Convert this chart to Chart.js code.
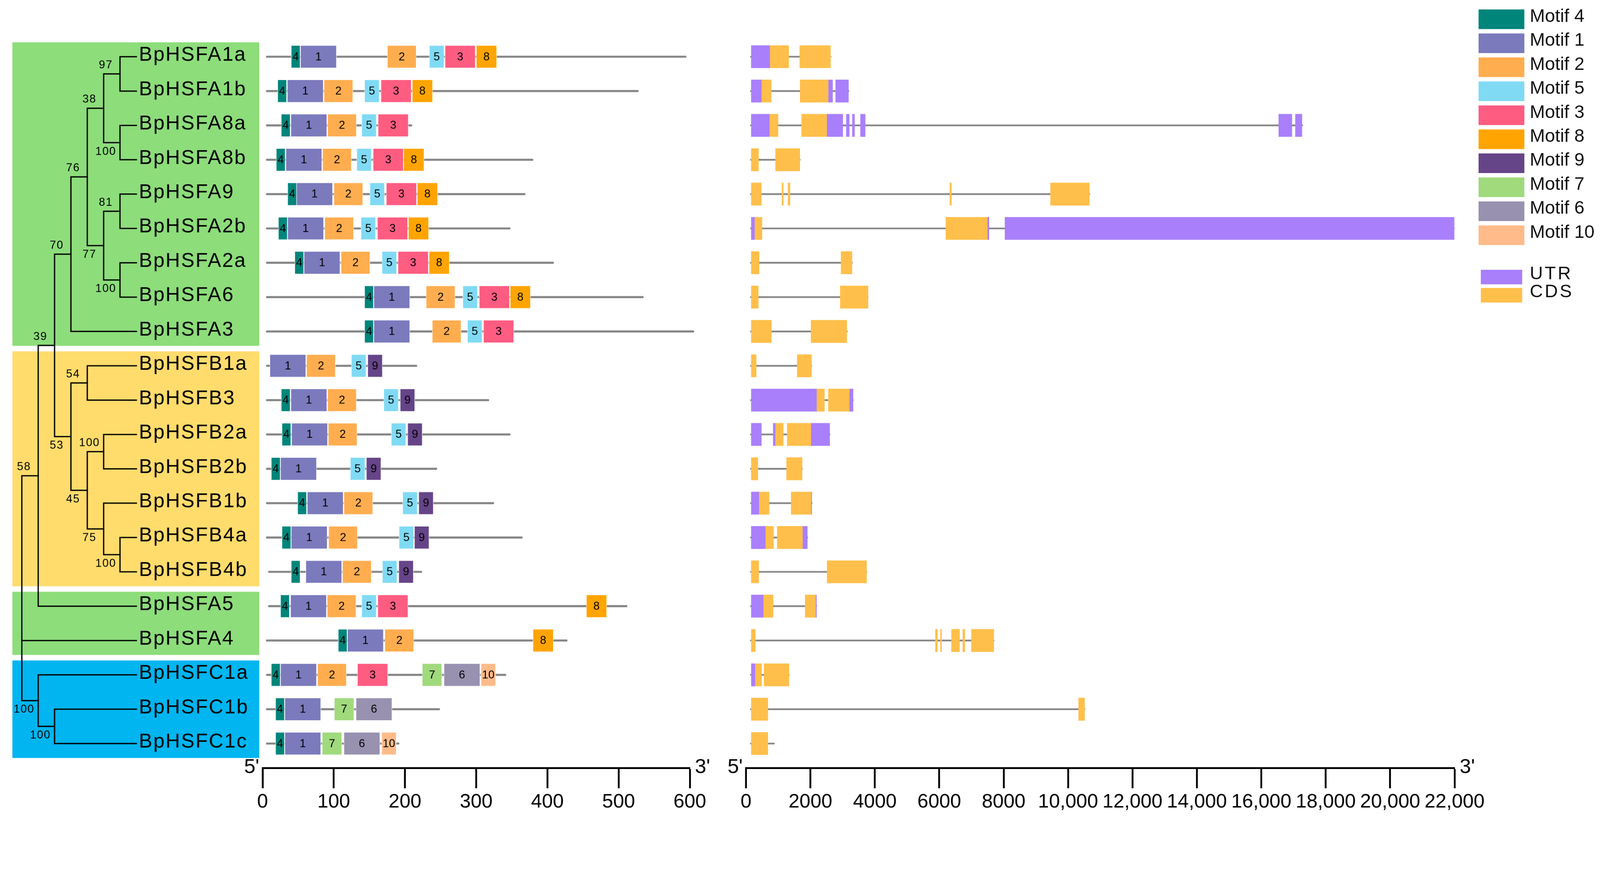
<!DOCTYPE html>
<html>
<head>
<meta charset="utf-8">
<script src="https://cdn.jsdelivr.net/npm/chart.js@4.4.1/dist/chart.umd.min.js"></script>
<style>
  html, body { margin: 0; padding: 0; background: #fff; overflow: hidden; }
  #page { position: relative; width: 4400px; height: 2248px; overflow: hidden; transform-origin: 0 0;
          font-family: "Liberation Sans", Arial, sans-serif; }
  #page canvas { position: absolute; top: 0; }
  .leg-box { position: absolute; }
  .leg-text { position: absolute; font-size: 50px; line-height: 50px; color: #111; white-space: nowrap; }
</style>
</head>
<body>
<div id="page">
  <canvas id="tree" width="730" height="2248" style="left:0px"></canvas>
  <canvas id="motifs" width="1340" height="2248" style="left:640px"></canvas>
  <canvas id="genes" width="2130" height="2248" style="left:1960px"></canvas>
  <div id="legend"></div>
</div>
<script>
// ---- data ----
const genes = ['BpHSFA1a', 'BpHSFA1b', 'BpHSFA8a', 'BpHSFA8b', 'BpHSFA9', 'BpHSFA2b', 'BpHSFA2a',
  'BpHSFA6', 'BpHSFA3', 'BpHSFB1a', 'BpHSFB3', 'BpHSFB2a', 'BpHSFB2b', 'BpHSFB1b', 'BpHSFB4a',
  'BpHSFB4b', 'BpHSFA5', 'BpHSFA4', 'BpHSFC1a', 'BpHSFC1b', 'BpHSFC1c'];

// cladogram with bootstrap values
const treeNewick = '(((((((BpHSFA1a,BpHSFA1b)97,(BpHSFA8a,BpHSFA8b)100)38,((BpHSFA9,BpHSFA2b)81,' +
  '(BpHSFA2a,BpHSFA6)100)77)76,BpHSFA3)70,((BpHSFB1a,BpHSFB3)54,((BpHSFB2a,BpHSFB2b)100,' +
  '(BpHSFB1b,(BpHSFB4a,BpHSFB4b)100)75)45)53)39,BpHSFA5)58,BpHSFA4,(BpHSFC1a,(BpHSFC1b,BpHSFC1c)100)100);';

// subfamily shading
const groupFirst = ['BpHSFA1a', 'BpHSFB1a', 'BpHSFA5', 'BpHSFC1a'];
const groupLast = ['BpHSFA3', 'BpHSFB4b', 'BpHSFA4', 'BpHSFC1c'];
const groupColors = ['#8ddd7b', '#ffdc6c', '#8ddd7b', '#00b5f0'];

// protein backbone (aa)
const proteinSpan = [[5, 595], [5, 528], [5, 210], [5, 380], [5, 369], [5, 348], [5, 409], [5, 535],
  [5, 606], [5, 217], [5, 318], [5, 348], [5, 245], [5, 325], [5, 365], [8, 224], [8, 512], [5, 428],
  [5, 342], [5, 249], [5, 192]];

const motifNames = ['Motif 4', 'Motif 1', 'Motif 2', 'Motif 5', 'Motif 3', 'Motif 8', 'Motif 9',
  'Motif 7', 'Motif 6', 'Motif 10'];
const motifColors = ['#00857a', '#7b7abd', '#ffad4f', '#80daf4', '#ff5c82', '#ffa400', '#664488',
  '#a0da7d', '#9891b0', '#ffbb8a'];
const motifWidth = [13, 51, 41, 21, 43, 29, 21, 28, 51, 21];

// motif start positions (aa), one entry per gene, null = absent
const _ = null;
const motif4 = [40, 21, 26, 19, 35, 22, 45, 143, 143, _, 26, 27, 12, 49, 27, 40, 25, 106, 12, 18, 18];
const motif1 = [53, 34.5, 39.5, 32.5, 47.5, 35, 58, 156, 156, 10, 39.5, 40.5, 25, 62.5, 40, 60.5, 39, 119, 25, 31, 31];
const motif2 = [175, 86, 91, 84, 100, 87, 110, 229.5, 238, 61.5, 91, 92, _, 114, 92.5, 112, 90.5, 171.5, 77, _, _];
const motif5 = [234, 143, 139, 132, 150.5, 138, 167.5, 281, 287.5, 124.5, 170, 180.5, 123, 196.5, 191.5, 168, 139, _, _, _, _];
const motif3 = [256, 166, 162, 155, 173.5, 161, 190, 304, 310, _, _, _, _, _, _, _, 161.5, _, 133, _, _];
const motif8 = [300, 210, _, 198, 217, 204.5, 233.5, 347.5, _, _, _, _, _, _, _, _, 454.5, 379.5, _, _, _];
const motif9 = [_, _, _, _, _, _, _, _, _, 147.5, 193, 203.5, 145.5, 219, 213, 191, _, _, _, _, _];
const motif7 = [_, _, _, _, _, _, _, _, _, _, _, _, _, _, _, _, _, _, 224, 100.5, 83.5];
const motif6 = [_, _, _, _, _, _, _, _, _, _, _, _, _, _, _, _, _, _, 254.5, 131, 114];
const motif10 = [_, _, _, _, _, _, _, _, _, _, _, _, _, _, _, _, _, _, 306.5, _, 167];
const motifStarts = [motif4, motif1, motif2, motif5, motif3, motif8, motif9, motif7, motif6, motif10];

// gene structure (bp)
const geneSpan = [[130, 2645], [130, 3203], [130, 17290], [130, 1690], [130, 10680], [130, 22000],
  [130, 3310], [130, 3800], [130, 3150], [130, 2050], [130, 3340], [130, 2615], [130, 1760],
  [130, 2060], [130, 1925], [130, 3760], [130, 2200], [130, 7710], [130, 1350], [130, 10530], [130, 888]];

const utrRegions = [
  [[162, 739]],
  [[162, 480], [2561, 2690], [2781, 3183]],
  [[162, 726], [2515, 3008], [3112, 3209], [3300, 3371], [3553, 3702], [16540, 16952], [17056, 17264]],
  [],
  [],
  [[162, 266], [7501, 7546], [8039, 21990]],
  [], [], [], [],
  [[162, 2191], [3216, 3326]],
  [[162, 480], [843, 908], [2023, 2600]],
  [],
  [[162, 402], [2023, 2042]],
  [[162, 603], [1763, 1906]],
  [],
  [[162, 538], [2172, 2190]],
  [],
  [[162, 279]],
  [], []
];

const cdsRegions = [
  [[739, 1329], [1666, 2626]],
  [[480, 784], [1679, 2561]],
  [[726, 998], [1724, 2515]],
  [[162, 389], [914, 1673]],
  [[162, 480], [1115, 1160], [1303, 1368], [6327, 6379], [9452, 10662]],
  [[266, 499], [6204, 7501]],
  [[162, 408], [2950, 3293]],
  [[162, 382], [2924, 3792]],
  [[162, 791], [2016, 3131]],
  [[162, 318], [1588, 2036]],
  [[2191, 2438], [2554, 3216]],
  [[908, 1160], [1277, 2023]],
  [[162, 370], [1258, 1744]],
  [[402, 720], [1400, 2023]],
  [[603, 856], [966, 1763]],
  [[162, 395], [2515, 3747]],
  [[538, 843], [1835, 2172]],
  [[162, 292], [5880, 5945], [6036, 6075], [6379, 6632], [6729, 6794], [6995, 7695]],
  [[279, 486], [557, 1335]],
  [[162, 681], [10325, 10515]],
  [[162, 681]]
];

const structureNames = ['UTR', 'CDS'];
const structureColors = ['#a97ffc', '#ffbf4a'];

// ---- layout ----
const ROW0 = 156;      // pixel centre of first row
const ROWH = 94.45;    // row pitch
const AXIS_Y = 2112;   // baseline of both scale bars
const FONT = '"Liberation Sans", Arial, sans-serif';

// fit the 4400 x 2248 figure into whatever viewport we get
const page = document.getElementById('page');
const fit = Math.min(window.innerWidth / 4400, window.innerHeight / 2248);
if (fit > 0 && Math.abs(fit - 1) > 0.002) page.style.transform = 'scale(' + fit + ')';

Chart.defaults.font.family = FONT;
Chart.defaults.color = '#000';
Chart.defaults.animation = false;
Chart.defaults.plugins.legend.display = false;
Chart.defaults.plugins.tooltip.enabled = false;

const rowMin = -ROW0 / ROWH;

// ---- tree ----
function parseNewick(s) {
  let pos = 0;
  function node() {
    const n = { children: [], name: '', support: '' };
    if (s[pos] === '(') {
      pos++;
      n.children.push(node());
      while (s[pos] === ',') { pos++; n.children.push(node()); }
      pos++; // ')'
    }
    let label = '';
    while (pos < s.length && !',);'.includes(s[pos])) label += s[pos++];
    if (n.children.length) n.support = label; else n.name = label;
    return n;
  }
  return node();
}

const treeRoot = parseNewick(treeNewick);
const innerNodes = [];
let leafDepth = 0;
function layoutTree(n, d) {
  n.depth = d;
  if (!n.children.length) {
    n.y = genes.indexOf(n.name);
    leafDepth = Math.max(leafDepth, d);
    return;
  }
  n.children.forEach(c => { c.parent = n; layoutTree(c, d + 1); });
  n.y = (n.children[0].y + n.children[n.children.length - 1].y) / 2;
  innerNodes.push(n);
}
layoutTree(treeRoot, 0);
const nodeX = n => n.children.length ? n.depth : leafDepth;

const treeDatasets = [];
innerNodes.forEach(n => {
  const first = n.children[0];
  const last = n.children[n.children.length - 1];
  treeDatasets.push({
    data: [{ x: nodeX(first), y: first.y }, { x: n.depth, y: first.y },
           { x: n.depth, y: last.y }, { x: nodeX(last), y: last.y }]
  });
  n.children.slice(1, -1).forEach(c => {
    treeDatasets.push({ data: [{ x: n.depth, y: c.y }, { x: nodeX(c), y: c.y }] });
  });
});
treeDatasets.forEach(ds => Object.assign(ds, {
  showLine: true, pointRadius: 0, borderColor: '#000', borderWidth: 3.5,
  borderJoinStyle: 'miter', borderCapStyle: 'square', tension: 0, fill: false
}));

const treeDecor = {
  id: 'treeDecor',
  beforeDatasetsDraw(chart) {
    const { ctx, scales: { y } } = chart;
    ctx.save();
    groupFirst.forEach((g, k) => {
      const top = y.getPixelForValue(genes.indexOf(g) - 0.42);
      const bottom = y.getPixelForValue(genes.indexOf(groupLast[k]) + 0.42);
      ctx.fillStyle = groupColors[k];
      ctx.fillRect(34, top, 679, bottom - top);
    });
    ctx.restore();
  },
  afterDatasetsDraw(chart) {
    const { ctx, scales: { x, y } } = chart;
    ctx.save();
    ctx.fillStyle = '#000';
    // leaf names
    ctx.font = '55px ' + FONT;
    ctx.letterSpacing = '3px';
    ctx.textAlign = 'left';
    ctx.textBaseline = 'middle';
    const labelX = x.getPixelForValue(leafDepth) + 7;
    genes.forEach((g, i) => ctx.fillText(g, labelX, y.getPixelForValue(i) - 4));
    // bootstrap values
    ctx.font = '31px ' + FONT;
    ctx.letterSpacing = '2px';
    ctx.textAlign = 'center';
    innerNodes.forEach(n => {
      if (!n.parent || !n.support) return;
      const above = n.parent.children[0] === n;
      const px = x.getPixelForValue(n.parent.depth) + 6;
      const py = y.getPixelForValue(n.y) + (above ? -24 : 25);
      ctx.fillText(n.support, px, py);
    });
    ctx.restore();
  }
};

new Chart(document.getElementById('tree'), {
  type: 'scatter',
  data: { datasets: treeDatasets },
  options: {
    responsive: false,
    events: [],
    layout: { padding: 0 },
    scales: {
      x: { type: 'linear', display: false, min: -60 / 45, max: (730 - 60) / 45 },
      y: { type: 'linear', display: false, reverse: true, min: rowMin, max: (2248 - ROW0) / ROWH }
    }
  },
  plugins: [treeDecor]
});

// ---- shared helpers for the two bar panels ----
function bottomAxis(max, step, format) {
  return {
    type: 'linear', position: 'bottom', min: 0, max: max, stacked: false,
    afterFit: scale => { scale.height = 2248 - AXIS_Y; },
    border: { display: true, color: '#000', width: 5 },
    grid: { drawOnChartArea: false, drawTicks: true, tickLength: 56, tickWidth: 5, tickColor: '#000' },
    ticks: { stepSize: step, color: '#000', padding: 6, font: { size: 54 }, maxRotation: 0,
             autoSkip: false, callback: format }
  };
}
function rowAxis() {
  return { type: 'linear', display: false, reverse: true, offset: false,
           min: rowMin, max: (AXIS_Y - ROW0) / ROWH };
}
const primeLabels = {
  id: 'primeLabels',
  afterDraw(chart) {
    const { ctx, chartArea } = chart;
    ctx.save();
    ctx.fillStyle = '#000';
    ctx.font = '56px ' + FONT;
    ctx.textBaseline = 'alphabetic';
    ctx.textAlign = 'right';
    ctx.fillText("5'", chartArea.left - 9, chartArea.bottom + 14);
    ctx.textAlign = 'left';
    ctx.fillText("3'", chartArea.right + 14, chartArea.bottom + 14);
    ctx.restore();
  }
};

// ---- motif panel ----
const motifDatasets = [{
  label: 'protein',
  data: proteinSpan.map((s, i) => ({ x: s, y: i })),
  backgroundColor: '#858585', borderWidth: 0, borderRadius: 2.5, borderSkipped: false,
  barThickness: 5, stack: 'row', order: 10, clip: false
}];
motifNames.forEach((name, k) => {
  const data = [];
  motifStarts[k].forEach((s, i) => { if (s !== null) data.push({ x: [s, s + motifWidth[k]], y: i }); });
  motifDatasets.push({
    label: name, data: data, motifText: name.replace('Motif ', ''),
    backgroundColor: motifColors[k], borderColor: 'rgba(255,255,255,0.75)', borderWidth: 1.5,
    borderSkipped: false, barThickness: 63, stack: 'row', order: 0, clip: false
  });
});

const motifText = {
  id: 'motifText',
  afterDatasetsDraw(chart) {
    const { ctx } = chart;
    ctx.save();
    ctx.fillStyle = '#000';
    ctx.font = '31px ' + FONT;
    ctx.textAlign = 'center';
    ctx.textBaseline = 'middle';
    chart.data.datasets.forEach((ds, d) => {
      if (!ds.motifText) return;
      chart.getDatasetMeta(d).data.forEach(el => {
        const p = el.getProps(['x', 'base', 'y'], true);
        ctx.fillText(ds.motifText, (p.x + p.base) / 2, p.y + 1);
      });
    });
    ctx.restore();
  }
};

new Chart(document.getElementById('motifs'), {
  type: 'bar',
  data: { datasets: motifDatasets },
  options: {
    indexAxis: 'y',
    responsive: false,
    events: [],
    layout: { padding: { left: 82, right: 83, top: 0, bottom: 0 } },
    scales: { x: bottomAxis(600, 100, v => String(v)), y: rowAxis() }
  },
  plugins: [motifText, primeLabels]
});

// ---- gene structure panel ----
const geneDatasets = [{
  label: 'intron',
  data: geneSpan.map((s, i) => ({ x: s, y: i })),
  backgroundColor: '#858585', borderWidth: 0, borderRadius: 2, borderSkipped: false,
  barThickness: 4, stack: 'row', order: 10, clip: false
}];
[utrRegions, cdsRegions].forEach((regions, k) => {
  const data = [];
  regions.forEach((list, i) => list.forEach(r => data.push({ x: r, y: i })));
  geneDatasets.push({
    label: structureNames[k], data: data, backgroundColor: structureColors[k],
    borderWidth: 0, barThickness: 62, stack: 'row', order: 0, clip: false
  });
});

new Chart(document.getElementById('genes'), {
  type: 'bar',
  data: { datasets: geneDatasets },
  options: {
    indexAxis: 'y',
    responsive: false,
    events: [],
    layout: { padding: { left: 91.5, right: 90, top: 0, bottom: 0 } },
    scales: {
      x: bottomAxis(22000, 2000, v => v >= 10000 ? v.toLocaleString('en-US') : String(v)),
      y: rowAxis()
    }
  },
  plugins: [primeLabels]
});

// ---- legend ----
const legend = document.getElementById('legend');
function addLegendItem(color, text, boxLeft, boxTop, boxW, boxH, textTop, spacing) {
  const b = document.createElement('div');
  b.className = 'leg-box';
  Object.assign(b.style, { left: boxLeft + 'px', top: boxTop + 'px', width: boxW + 'px',
    height: boxH + 'px', background: color });
  legend.appendChild(b);
  const t = document.createElement('div');
  t.className = 'leg-text';
  t.textContent = text;
  Object.assign(t.style, { left: '4207px', top: textTop + 'px', letterSpacing: spacing });
  legend.appendChild(t);
}
motifNames.forEach((name, k) => {
  const top = 26 + 66 * k;
  addLegendItem(motifColors[k], name, 4066, top, 126, 54, top - 8, '0px');
});
structureNames.forEach((name, k) => {
  const top = 742 + 50 * k;
  addLegendItem(structureColors[k], name, 4072, top, 114, 40, top - 16, '5px');
});
</script>
</body>
</html>
